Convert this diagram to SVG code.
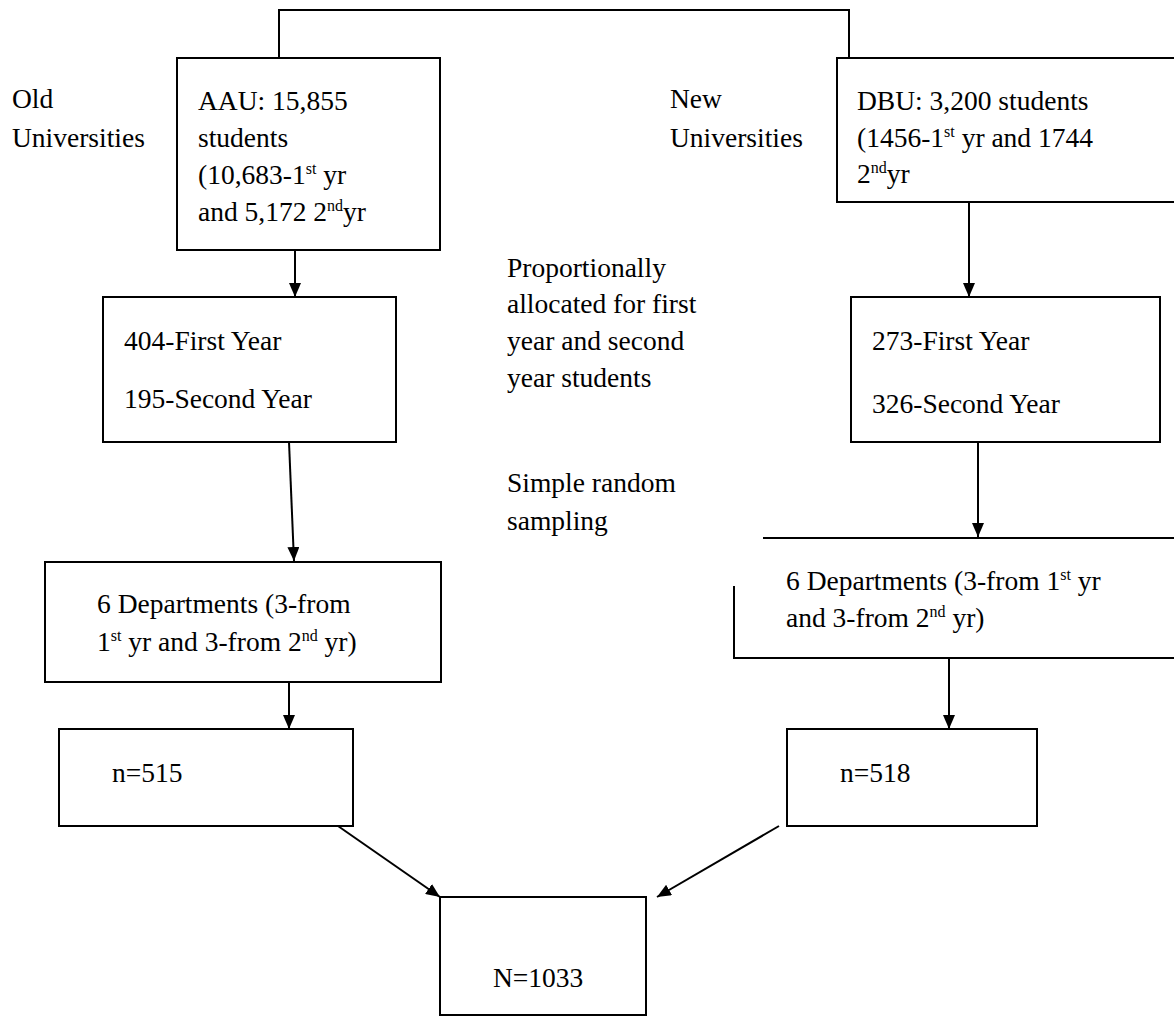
<svg xmlns="http://www.w3.org/2000/svg" width="1174" height="1017" viewBox="0 0 1174 1017">
<style>
text{font-family:"Liberation Serif","Times New Roman",serif;font-size:27.5px;fill:#000}
.sup{font-size:16px}
.box{fill:#fff;stroke:#000;stroke-width:2}
.ln{fill:none;stroke:#000;stroke-width:2}
</style>
<defs>
<marker id="ah" markerUnits="userSpaceOnUse" markerWidth="14" markerHeight="12" refX="14" refY="6" orient="auto">
<path d="M0,0 L14,6 L0,12 z" fill="#000"/>
</marker>
</defs>
<rect width="1174" height="1017" fill="#fff"/>
<g id="connectors">
<path class="ln" d="M279,58 V10 H849 V62"/>
<line class="ln" x1="295" y1="250" x2="295" y2="297" marker-end="url(#ah)"/>
<line class="ln" x1="969" y1="202" x2="969" y2="297" marker-end="url(#ah)"/>
<line class="ln" x1="289" y1="442" x2="294" y2="561" marker-end="url(#ah)"/>
<line class="ln" x1="978" y1="442" x2="978" y2="537" marker-end="url(#ah)"/>
<line class="ln" x1="289" y1="682" x2="289" y2="729" marker-end="url(#ah)"/>
<line class="ln" x1="949" y1="658" x2="949" y2="729" marker-end="url(#ah)"/>
<line class="ln" x1="338" y1="826" x2="440" y2="897" marker-end="url(#ah)"/>
<line class="ln" x1="779" y1="826" x2="657" y2="897" marker-end="url(#ah)"/>
</g>
<g id="labels">
<text x="12" y="108">Old</text>
<text x="12" y="147">Universities</text>
<text x="670" y="108">New</text>
<text x="670" y="147">Universities</text>
<text x="507" y="277">Proportionally</text>
<text x="507" y="313">allocated for first</text>
<text x="507" y="350">year and second</text>
<text x="507" y="387">year students</text>
<text x="507" y="492">Simple random</text>
<text x="507" y="530">sampling</text>
</g>
<g id="aau">
<rect class="box" x="177" y="58" width="263" height="192"/>
<text x="198" y="110">AAU: 15,855</text>
<text x="198" y="147">students</text>
<text x="198" y="184">(10,683-1<tspan class="sup" dy="-10">st</tspan><tspan dy="10"> yr</tspan></text>
<text x="198" y="221">and 5,172 2<tspan class="sup" dy="-10">nd</tspan><tspan dy="10">yr</tspan></text>
</g>
<g id="dbu">
<rect class="box" x="837" y="58" width="340" height="144"/>
<text x="857" y="110">DBU: 3,200 students</text>
<text x="857" y="147">(1456-1<tspan class="sup" dy="-10">st</tspan><tspan dy="10"> yr and 1744</tspan></text>
<text x="857" y="183">2<tspan class="sup" dy="-10">nd</tspan><tspan dy="10">yr</tspan></text>
</g>
<g id="aau-years">
<rect class="box" x="103" y="297" width="293" height="145"/>
<text x="124" y="350">404-First Year</text>
<text x="124" y="408">195-Second Year</text>
</g>
<g id="dbu-years">
<rect class="box" x="851" y="297" width="309" height="145"/>
<text x="872" y="350">273-First Year</text>
<text x="872" y="413">326-Second Year</text>
</g>
<g id="aau-depts">
<rect class="box" x="45" y="562" width="396" height="120"/>
<text x="97" y="613">6 Departments (3-from</text>
<text x="97" y="651">1<tspan class="sup" dy="-10">st</tspan><tspan dy="10"> yr and 3-from 2</tspan><tspan class="sup" dy="-10">nd</tspan><tspan dy="10"> yr)</tspan></text>
</g>
<g id="dbu-depts">
<path class="ln" d="M763,538 H1176 M734,586 V658 H1176"/>
<text x="786" y="590">6 Departments (3-from 1<tspan class="sup" dy="-10">st</tspan><tspan dy="10"> yr</tspan></text>
<text x="786" y="627">and 3-from 2<tspan class="sup" dy="-10">nd</tspan><tspan dy="10"> yr)</tspan></text>
</g>
<g id="n515">
<rect class="box" x="59" y="729" width="294" height="97"/>
<text x="112" y="782">n=515</text>
</g>
<g id="n518">
<rect class="box" x="787" y="729" width="250" height="97"/>
<text x="840" y="782">n=518</text>
</g>
<g id="total">
<rect class="box" x="440" y="897" width="206" height="118"/>
<text x="493" y="987">N=1033</text>
</g>
</svg>
